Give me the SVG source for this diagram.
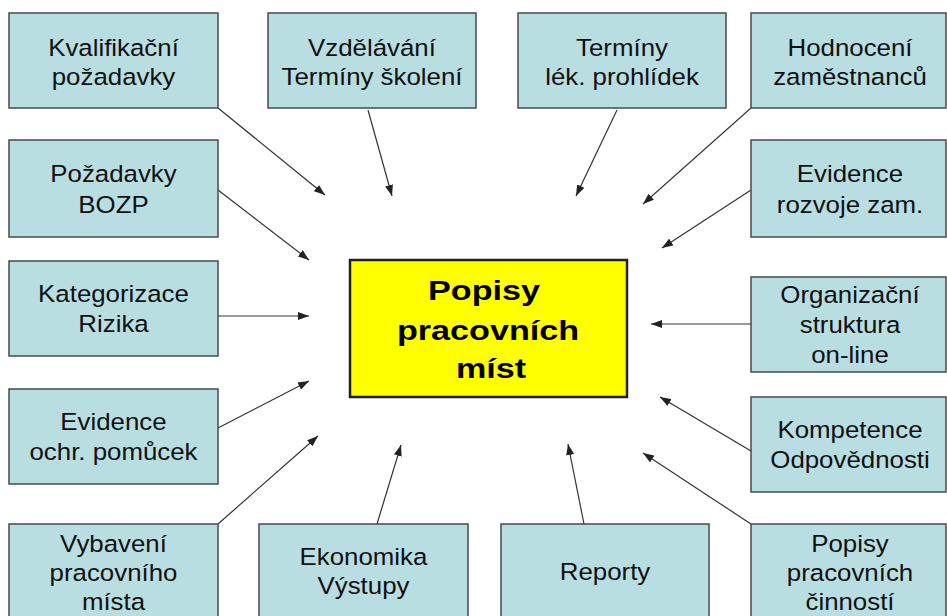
<svg xmlns="http://www.w3.org/2000/svg" width="947" height="616" viewBox="0 0 947 616">
<style>
.box{fill:#b9dee2;stroke:#4a4a4a;stroke-width:1.5}
.main{fill:#ffff00;stroke:#222;stroke-width:2.5}
.t{font-family:"Liberation Sans",Arial,sans-serif;font-size:23.5px;fill:#111;text-anchor:middle}
.tm{font-family:"Liberation Sans",Arial,sans-serif;font-size:28px;font-weight:bold;fill:#000;text-anchor:middle}
.c{stroke:#333;stroke-width:1.2;fill:none;marker-end:url(#ah)}
</style>
<defs>
<marker id="ah" markerUnits="userSpaceOnUse" markerWidth="12" markerHeight="8" refX="11" refY="4" orient="auto">
<path d="M0,0 L11,4 L0,8 z" fill="#222"/>
</marker>
</defs>
<rect width="947" height="616" fill="#fff"/>
<g id="connectors">
<line class="c" x1="218" y1="108" x2="325" y2="195"/>
<line class="c" x1="368" y1="110" x2="392" y2="196"/>
<line class="c" x1="617" y1="110" x2="576" y2="196"/>
<line class="c" x1="751" y1="108" x2="643" y2="204"/>
<line class="c" x1="218" y1="190" x2="309" y2="260"/>
<line class="c" x1="751" y1="190" x2="662" y2="248"/>
<line class="c" x1="218" y1="316" x2="309" y2="316"/>
<line class="c" x1="751" y1="324" x2="651" y2="324"/>
<line class="c" x1="218" y1="428" x2="309" y2="381"/>
<line class="c" x1="751" y1="451" x2="660" y2="397"/>
<line class="c" x1="218" y1="524" x2="318" y2="436"/>
<line class="c" x1="377" y1="524" x2="401" y2="445"/>
<line class="c" x1="584" y1="524" x2="568" y2="444"/>
<line class="c" x1="751" y1="524" x2="643" y2="453"/>
</g>
<g id="center">
<rect class="main" x="350" y="260" width="277" height="137"/>
<text class="tm" transform="translate(484 300) scale(1.22 1)">Popisy</text>
<text class="tm" transform="translate(488 340) scale(1.22 1)">pracovních</text>
<text class="tm" transform="translate(491 378) scale(1.22 1)">míst</text>
</g>
<g id="kvalifikacni">
<rect class="box" x="9" y="13" width="209" height="95"/>
<text class="t" transform="translate(113.5 55.5) scale(1.1 1)">Kvalifikační</text>
<text class="t" transform="translate(113.5 85) scale(1.1 1)">požadavky</text>
</g>
<g id="vzdelavani">
<rect class="box" x="268" y="13" width="208" height="95"/>
<text class="t" transform="translate(372 55.5) scale(1.1 1)">Vzdělávání</text>
<text class="t" transform="translate(372 85) scale(1.1 1)">Termíny školení</text>
</g>
<g id="terminy">
<rect class="box" x="518" y="13" width="208" height="95"/>
<text class="t" transform="translate(622 55.5) scale(1.1 1)">Termíny</text>
<text class="t" transform="translate(622 85) scale(1.1 1)">lék. prohlídek</text>
</g>
<g id="hodnoceni">
<rect class="box" x="751" y="13" width="195" height="95"/>
<text class="t" transform="translate(850 55.5) scale(1.1 1)">Hodnocení</text>
<text class="t" transform="translate(850 85) scale(1.1 1)">zaměstnanců</text>
</g>
<g id="bozp">
<rect class="box" x="9" y="140" width="209" height="97"/>
<text class="t" transform="translate(113.5 182) scale(1.1 1)">Požadavky</text>
<text class="t" transform="translate(113.5 213) scale(1.1 1)">BOZP</text>
</g>
<g id="rozvoj">
<rect class="box" x="751" y="140" width="195" height="97"/>
<text class="t" transform="translate(850 182) scale(1.1 1)">Evidence</text>
<text class="t" transform="translate(850 213) scale(1.1 1)">rozvoje zam.</text>
</g>
<g id="kategorizace">
<rect class="box" x="9" y="261" width="209" height="95"/>
<text class="t" transform="translate(113.5 302) scale(1.1 1)">Kategorizace</text>
<text class="t" transform="translate(113.5 332) scale(1.1 1)">Rizika</text>
</g>
<g id="organizacni">
<rect class="box" x="751" y="277" width="195" height="95"/>
<text class="t" transform="translate(850 303) scale(1.1 1)">Organizační</text>
<text class="t" transform="translate(850 333) scale(1.1 1)">struktura</text>
<text class="t" transform="translate(850 363) scale(1.1 1)">on-line</text>
</g>
<g id="ochr">
<rect class="box" x="9" y="389" width="209" height="95"/>
<text class="t" transform="translate(113.5 430) scale(1.1 1)">Evidence</text>
<text class="t" transform="translate(113.5 460) scale(1.1 1)">ochr. pomůcek</text>
</g>
<g id="kompetence">
<rect class="box" x="751" y="397" width="195" height="95"/>
<text class="t" transform="translate(850 438) scale(1.1 1)">Kompetence</text>
<text class="t" transform="translate(850 468) scale(1.1 1)">Odpovědnosti</text>
</g>
<g id="vybaveni">
<rect class="box" x="9" y="524" width="209" height="100"/>
<text class="t" transform="translate(113.5 552) scale(1.1 1)">Vybavení</text>
<text class="t" transform="translate(113.5 581) scale(1.1 1)">pracovního</text>
<text class="t" transform="translate(113.5 610) scale(1.1 1)">místa</text>
</g>
<g id="ekonomika">
<rect class="box" x="259" y="524" width="209" height="100"/>
<text class="t" transform="translate(363.5 565) scale(1.1 1)">Ekonomika</text>
<text class="t" transform="translate(363.5 594) scale(1.1 1)">Výstupy</text>
</g>
<g id="reporty">
<rect class="box" x="501" y="524" width="208" height="100"/>
<text class="t" transform="translate(605 580) scale(1.1 1)">Reporty</text>
</g>
<g id="cinnosti">
<rect class="box" x="751" y="524" width="195" height="100"/>
<text class="t" transform="translate(850 552) scale(1.1 1)">Popisy</text>
<text class="t" transform="translate(850 581) scale(1.1 1)">pracovních</text>
<text class="t" transform="translate(850 610) scale(1.1 1)">činností</text>
</g>
</svg>
